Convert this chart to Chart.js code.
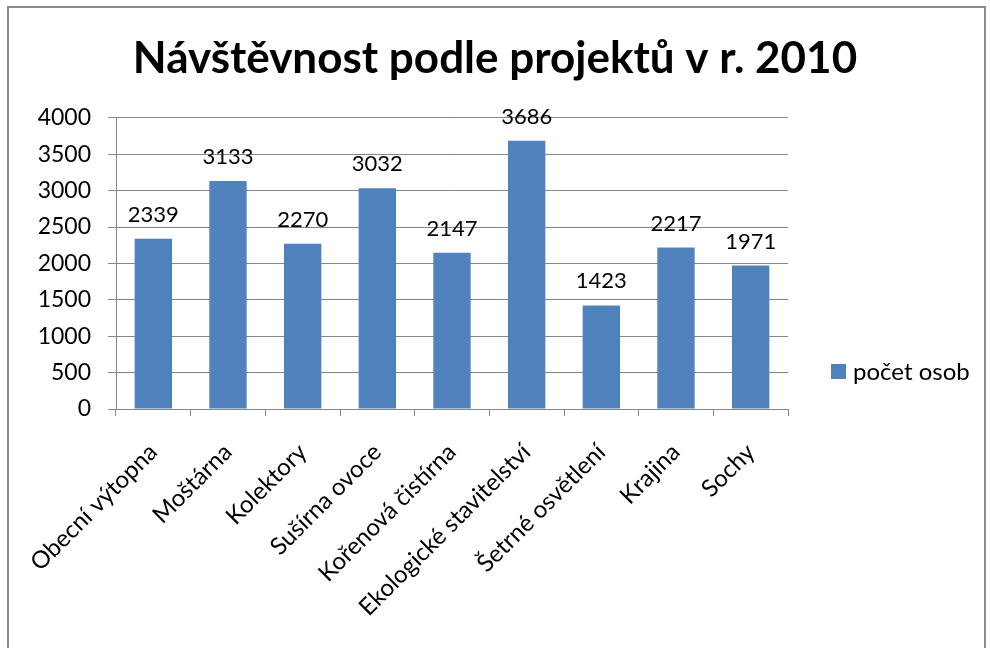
<!DOCTYPE html>
<html>
<head>
<meta charset="utf-8">
<script src="https://cdn.jsdelivr.net/npm/chart.js@4.4.0/dist/chart.umd.min.js"></script>
<style>
  html, body { margin: 0; padding: 0; background: #fff; }
  #wrap { position: relative; width: 990px; height: 648px; overflow: hidden; }
  #frame {
    position: absolute; left: 7px; top: 6px; width: 979px; height: 700px;
    border: 2px solid #8c8c8c; box-sizing: border-box; pointer-events: none;
  }
  canvas { position: absolute; left: 0; top: 0; }
</style>
</head>
<body>
<div id="wrap">
  <canvas id="graf" width="990" height="648"></canvas>
  <div id="frame"></div>
</div>
<script>
const projekty = [
    "Obecní výtopna",
    "Moštárna",
    "Kolektory",
    "Sušírna ovoce",
    "Kořenová čistírna",
    "Ekologické stavitelství",
    "Šetrné osvětlení",
    "Krajina",
    "Sochy",
];
const pocetOsob = [2339, 3133, 2270, 3032, 2147, 3686, 1423, 2217, 1971];
const osaY = [0, 500, 1000, 1500, 2000, 2500, 3000, 3500, 4000];

const pismo = "Lato, 'DejaVu Sans', sans-serif";
const modra = "#4f81bd";
const seda = "#868686";

// hodnoty nad sloupci
const popisky = {
    id: "popisky",
    afterDatasetsDraw(chart) {
        const ctx = chart.ctx;
        const meta = chart.getDatasetMeta(0);
        ctx.save();
        ctx.font = "22px " + pismo;
        ctx.fillStyle = "#000";
        ctx.textAlign = "center";
        ctx.textBaseline = "alphabetic";
        meta.data.forEach((bar, i) => {
            ctx.fillText(String(chart.data.datasets[0].data[i]), bar.x, bar.y - 17);
        });
        ctx.restore();
    },
};

// legenda vpravo
const legenda = {
    id: "legenda",
    afterDraw(chart) {
        const ctx = chart.ctx;
        const ds = chart.data.datasets[0];
        ctx.save();
        ctx.fillStyle = ds.backgroundColor;
        ctx.fillRect(831, 364, 15, 15);
        ctx.font = "24px " + pismo;
        ctx.fillStyle = "#000";
        ctx.textAlign = "left";
        ctx.textBaseline = "middle";
        ctx.fillText(ds.label, 853, 372);
        ctx.restore();
    },
};

const dataGrafu = {
    labels: projekty,
    datasets: [
        {
            label: "počet osob",
            backgroundColor: modra,
            data: pocetOsob,
            barPercentage: 0.5,
            categoryPercentage: 1,
        },
    ],
};

const configGrafu = {
    type: "bar",
    data: dataGrafu,
    options: {
        responsive: false,
        animation: false,
        layout: {
            padding: { top: 10, left: 0, right: 0, bottom: 0 },
        },
        plugins: {
            legend: { display: false },
            tooltip: { enabled: false },
            title: {
                display: true,
                text: "Návštěvnost podle projektů v r. 2010",
                color: "#000",
                padding: { top: 22, bottom: 33 },
                font: { family: pismo, size: 44, weight: "bold", lineHeight: 1.2 },
            },
        },
        scales: {
            x: {
                afterFit(scale) { scale.height = 239; },
                grid: {
                    offset: true,
                    drawOnChartArea: false,
                    drawTicks: true,
                    tickLength: 7,
                    color: seda,
                },
                border: { color: seda, width: 1 },
                ticks: {
                    color: "#000",
                    minRotation: 45,
                    maxRotation: 45,
                    padding: 22,
                    font: { family: pismo, size: 24 },
                },
            },
            y: {
                min: 0,
                max: 4000,
                afterFit(scale) { scale.width = 116; },
                afterBuildTicks(scale) { scale.ticks = osaY.map((v) => ({ value: v })); },
                grid: {
                    color: seda,
                    tickLength: 8,
                },
                border: { color: seda, width: 1 },
                ticks: {
                    color: "#000",
                    padding: 17,
                    font: { family: pismo, size: 23 },
                    callback: (v) => String(v),
                },
            },
            // prázdné místo pro legendu vpravo
            misto: {
                type: "linear",
                position: "right",
                afterFit(scale) { scale.width = 202; },
                grid: { display: false },
                border: { display: false },
                ticks: { display: false },
            },
        },
    },
    plugins: [popisky, legenda],
};

const graf = new Chart(document.getElementById("graf"), configGrafu);
</script>
</body>
</html>
